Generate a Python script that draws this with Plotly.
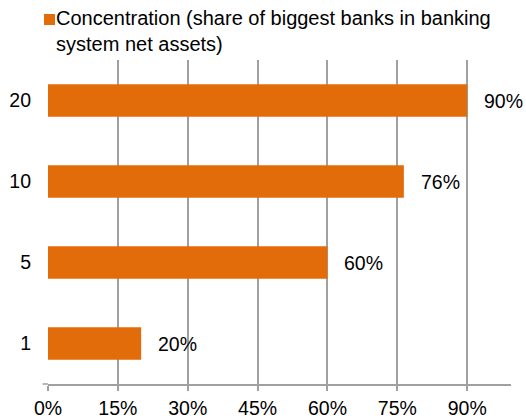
import plotly.graph_objects as go

categories = ["1", "5", "10", "20"]
values = [20, 60, 76.4, 90]
value_labels = ["20%", "60%", "76%", "90%"]
x_ticks = [0, 15, 30, 45, 60, 75, 90]
x_tick_labels = ["0%", "15%", "30%", "45%", "60%", "75%", "90%"]
legend_text = "Concentration (share of biggest banks in banking<br>system net assets)"

ORANGE = "#E36C0A"
GRID = "#A0A0A0"
FONT = "Liberation Sans, Arial, sans-serif"

fig = go.Figure()
fig.add_trace(go.Bar(
    y=categories, x=values, orientation="h",
    marker=dict(color=ORANGE, line=dict(width=0)),
    showlegend=False, hoverinfo="skip",
))

# value labels: category axes place annotations by category index
for i, (v, t) in enumerate(zip(values, value_labels)):
    fig.add_annotation(x=v, y=i, text=t, showarrow=False, xanchor="left",
                       xshift=15, font=dict(size=19.5, color="#000000", family=FONT))

# manual legend
fig.add_annotation(xref="paper", yref="paper", x=6 / 463, y=1.0, yshift=55,
                   xanchor="left", yanchor="top", align="left",
                   text=legend_text, showarrow=False,
                   font=dict(size=20, color="#000000", family=FONT))
fig.add_shape(type="rect", xref="paper", yref="paper",
              x0=-4 / 463, x1=7 / 463, y0=1 + 35 / 324, y1=1 + 46 / 324,
              fillcolor=ORANGE, line=dict(width=0))
# left stub of axis line
fig.add_shape(type="line", xref="paper", yref="paper",
              x0=-5.5 / 463, x1=0, y0=0, y1=0,
              line=dict(color=GRID, width=1.5))

fig.update_layout(
    width=526, height=419,
    margin=dict(l=48, r=15, t=60, b=35, autoexpand=False),
    paper_bgcolor="white", plot_bgcolor="white",
    bargap=0.6,
    font=dict(family=FONT, size=19.5, color="#000000"),
    xaxis=dict(range=[0, 99.4], tickvals=x_ticks, ticktext=x_tick_labels,
               showgrid=True, gridcolor=GRID, gridwidth=1.5,
               zeroline=False, showline=True, linecolor=GRID, linewidth=1.5,
               ticks="outside", ticklen=5, tickcolor=GRID, tickwidth=1.5,
               ticklabelstandoff=1, automargin=False, fixedrange=True),
    yaxis=dict(type="category", categoryorder="array", categoryarray=categories,
               range=[-0.5, 3.5],
               showgrid=False, zeroline=False, showline=False,
               ticks="", ticklabelstandoff=16, automargin=False, fixedrange=True),
)

fig.write_html("out.html")
